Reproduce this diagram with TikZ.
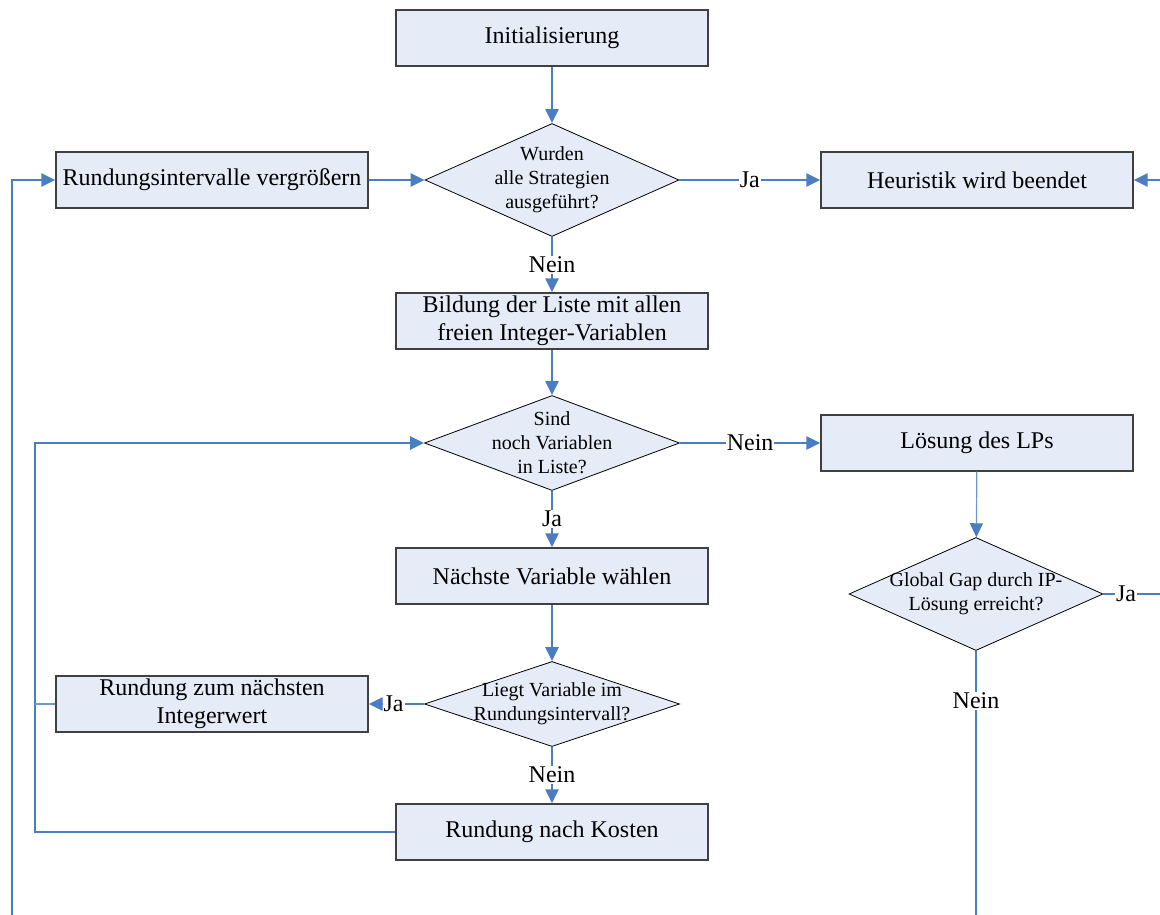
\documentclass[tikz,border=0pt]{standalone}
\usepackage{fontspec}
\setmainfont{Liberation Serif}
\usetikzlibrary{shapes.geometric,arrows.meta}
\definecolor{boxfill}{RGB}{230,236,247}
\definecolor{boxline}{RGB}{64,64,64}
\definecolor{flow}{RGB}{74,126,193}
\begin{document}
\begin{tikzpicture}[x=1pt,y=-1pt,
  stepbox/.style={draw=boxline,line width=1.2pt,fill=boxfill,minimum width=312pt,
    minimum height=56pt,inner sep=0pt,align=center,
    font=\fontsize{24}{28}\selectfont},
  dia/.style={diamond,draw=black,line width=0.8pt,fill=boxfill,inner sep=0pt},
  dtxt/.style={align=center,font=\fontsize{20}{24}\selectfont,inner sep=0pt},
  arr/.style={draw=flow,line width=2.6pt,-{Triangle[length=14pt,width=13pt]}},
  ln/.style={draw=flow,line width=2.6pt},
  thinln/.style={draw=flow!80,line width=1.2pt},
  thinarr/.style={draw=flow!80,line width=1.2pt,-{Triangle[length=14pt,width=13pt,color=flow]}},
  lbl/.style={fill=white,inner sep=1pt,font=\fontsize{24}{28}\selectfont}]
\useasboundingbox (0,0) rectangle (1160,915);

% process boxes
\node[stepbox] (init) at (552,38) {Initialisierung};
\node[stepbox] (grow) at (212,180) {Rundungsintervalle vergrößern};
\node[stepbox] (stop) at (977,180) {Heuristik wird beendet};
\node[stepbox] (list) at (552,321) {Bildung der Liste mit allen\\freien Integer-Variablen};
\node[stepbox] (lp) at (977,443) {Lösung des LPs};
\node[stepbox] (next) at (552,576) {Nächste Variable wählen};
\node[stepbox] (near) at (212,704) {Rundung zum nächsten\\Integerwert};
\node[stepbox] (cost) at (552,832) {Rundung nach Kosten};

% decisions
\node[dia,minimum width=254pt,minimum height=113pt,
  label={[dtxt]center:{Wurden\\alle Strategien\\ausgeführt?}}] (d1) at (552,180) {};
\node[dia,minimum width=255pt,minimum height=95pt,
  label={[dtxt]center:{Sind\\noch Variablen\\in Liste?}}] (d2) at (552,443) {};
\node[dia,minimum width=254pt,minimum height=113pt,
  label={[dtxt]center:{Global Gap durch IP-\\Lösung erreicht?}}] (d3) at (976,594) {};
\node[dia,minimum width=255pt,minimum height=85pt,
  label={[dtxt]center:{Liegt Variable im\\Rundungsintervall?}}] (d4) at (552,704) {};

% free ends at the border
\coordinate (outerfoot) at (12,915);
\coordinate (stopin) at (1160,180);
\coordinate (gapout) at (1160,594);
\coordinate (gapfoot) at (976,915);
\coordinate (loopfoot) at (35,832);
\coordinate (loopjoin) at (35,704);

% main flow
\draw[arr] (init) -- (d1);
\draw[arr] (grow) -- (d1);
\draw[arr] (d1) -- node[lbl]{Ja} (stop);
\draw[arr] (d1) -- node[lbl,pos=0.5]{Nein} (list);
\draw[arr] (list) -- (d2);
\draw[arr] (d2) -- node[lbl]{Nein} (lp);
\draw[arr] (d2) -- node[lbl]{Ja} (next);
\draw[arr] (next) -- (d4);
\draw[arr] (d4) -- node[lbl,pos=0.5]{Nein} (cost);
\draw[arr] (d4.west) -- node[lbl,pos=0.55]{Ja} (near.east);
\draw[thinarr] (lp) -- (d3);

% right side
\draw[ln] (d3.east) -- node[lbl,pos=0.4]{Ja} (gapout);
\draw[ln] (d3.south) -- node[lbl,pos=0.19]{Nein} (gapfoot);
\draw[arr] (stopin) -- (stop.east);

% loops on the left
\draw[arr] (outerfoot) |- (grow.west);
\draw[arr] (cost.west) -- (loopfoot) |- (d2.west);
\draw[thinln] (near.west) -- (loopjoin);
\end{tikzpicture}
\end{document}
